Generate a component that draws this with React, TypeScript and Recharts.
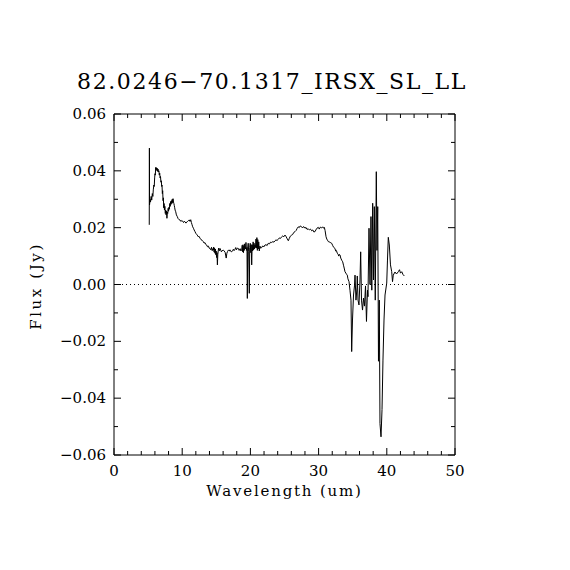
import React from "react";
import { LineChart, Line, XAxis, YAxis, ReferenceLine } from "recharts";

const chartTitle = "82.0246\u221270.1317_IRSX_SL_LL";
const xAxisTitle = "Wavelength (um)";
const yAxisTitle = "Flux (Jy)";

const xTicks = [0, 2, 4, 6, 8, 10, 12, 14, 16, 18, 20, 22, 24, 26, 28, 30, 32, 34, 36, 38, 40, 42, 44, 46, 48, 50];
const yTicks = [-0.06, -0.05, -0.04, -0.03, -0.02, -0.01, 0, 0.01, 0.02, 0.03, 0.04, 0.05, 0.06];

const wavelengthUm = [
  5.17, 5.19, 5.21, 5.28, 5.35, 5.45, 5.53, 5.62, 5.7, 5.76, 5.84, 5.9, 5.96, 6.01, 6.06, 6.11, 6.16, 6.22, 6.28, 6.34,
  6.4, 6.46, 6.52, 6.58, 6.64, 6.7, 6.76, 6.82, 6.88, 6.94, 6.99, 7.04, 7.09, 7.14, 7.19, 7.24, 7.29, 7.34, 7.4, 7.46,
  7.52, 7.58, 7.64, 7.7, 7.76, 7.82, 7.88, 7.94, 8.0, 8.06, 8.12, 8.18, 8.24, 8.3, 8.36, 8.42, 8.48, 8.54, 8.6, 8.66,
  8.72, 8.78, 8.84, 8.9, 8.96, 9.05, 9.15, 9.28, 9.4, 9.55, 9.68, 9.8, 9.95, 10.07, 10.2, 10.3, 10.41, 10.55, 10.66, 10.8,
  10.95, 11.04, 11.15, 11.25, 11.35, 11.45, 11.54, 11.65, 11.75, 11.88, 12.0, 12.1, 12.21, 12.35, 12.45, 12.61, 12.75, 12.9, 13.09, 13.2,
  13.35, 13.45, 13.59, 13.7, 13.85, 13.95, 14.08, 14.2, 14.3, 14.4, 14.5, 14.56, 14.62, 14.68, 14.74, 14.8, 14.86, 14.92, 14.98, 15.04,
  15.1, 15.16, 15.22, 15.29, 15.35, 15.42, 15.48, 15.54, 15.65, 15.75, 15.85, 16.03, 16.15, 16.3, 16.45, 16.55, 16.65, 16.76, 16.9, 17.0,
  17.1, 17.26, 17.4, 17.5, 17.6, 17.74, 17.85, 17.95, 18.1, 18.23, 18.35, 18.5, 18.6, 18.72, 18.8, 18.86, 18.92, 18.98, 19.04, 19.1,
  19.16, 19.21, 19.28, 19.35, 19.42, 19.5, 19.55, 19.6, 19.68, 19.75, 19.84, 19.9, 19.98, 20.05, 20.12, 20.19, 20.26, 20.33, 20.4, 20.47,
  20.54, 20.6, 20.67, 20.74, 20.82, 20.88, 20.95, 21.02, 21.08, 21.16, 21.22, 21.3, 21.4, 21.5, 21.66, 21.8, 21.95, 22.14, 22.3, 22.45,
  22.62, 22.8, 22.95, 23.12, 23.3, 23.45, 23.61, 23.75, 23.9, 24.09, 24.25, 24.4, 24.59, 24.75, 24.9, 25.07, 25.2, 25.35, 25.56, 25.7,
  25.85, 26.06, 26.2, 26.35, 26.54, 26.7, 26.85, 27.02, 27.15, 27.3, 27.52, 27.65, 27.8, 28.0, 28.15, 28.3, 28.49, 28.65, 28.8, 28.99,
  29.15, 29.3, 29.47, 29.6, 29.75, 29.96, 30.1, 30.25, 30.45, 30.6, 30.75, 30.84, 30.95, 31.09, 31.2, 31.3, 31.42, 31.55, 31.7, 31.92,
  32.05, 32.2, 32.4, 32.5, 32.6, 32.74, 32.85, 32.95, 33.05, 33.14, 33.25, 33.4, 33.53, 33.65, 33.75, 33.87, 34.0, 34.1, 34.21, 34.3,
  34.46, 34.6, 34.75, 34.85, 34.97, 35.12, 35.26, 35.34, 35.48, 35.63, 35.67, 35.78, 35.92, 36.07, 36.17, 36.29, 36.44, 36.58, 36.73, 36.88,
  37.02, 37.17, 37.24, 37.39, 37.54, 37.68, 37.8, 37.93, 38.05, 38.17, 38.31, 38.46, 38.56, 38.67, 38.78, 38.9, 39.0, 39.15, 39.3, 39.44,
  39.59, 39.74, 39.99, 40.1, 40.22, 40.37, 40.54, 40.72, 40.84, 40.95, 41.2, 41.42, 41.69, 41.86, 42.01, 42.19, 42.38, 42.57,
];

const fluxJy = [
  0.021, 0.048, 0.028, 0.03, 0.029, 0.031, 0.0297, 0.032, 0.031, 0.0333, 0.035, 0.0345, 0.0375, 0.039, 0.0385, 0.0412, 0.0405, 0.0411, 0.0401, 0.0409,
  0.0398, 0.0406, 0.0396, 0.04, 0.0385, 0.0392, 0.0375, 0.038, 0.036, 0.0365, 0.0345, 0.035, 0.032, 0.033, 0.0295, 0.0305, 0.027, 0.0285, 0.0262, 0.0275,
  0.025, 0.0262, 0.0245, 0.0258, 0.0233, 0.0255, 0.025, 0.0268, 0.0258, 0.0272, 0.0265, 0.0285, 0.0275, 0.0292, 0.0282, 0.0295, 0.0285, 0.03, 0.0288, 0.0302,
  0.029, 0.0285, 0.0278, 0.027, 0.0262, 0.0256, 0.0245, 0.0239, 0.0232, 0.0228, 0.0227, 0.0222, 0.0225, 0.0223, 0.0218, 0.0222, 0.0221, 0.0216, 0.022, 0.0222,
  0.0226, 0.0227, 0.0222, 0.0228, 0.0218, 0.021, 0.0203, 0.0198, 0.0192, 0.0186, 0.018, 0.0177, 0.0174, 0.0168, 0.017, 0.0163, 0.0158, 0.0156, 0.0151, 0.0146,
  0.0147, 0.0141, 0.0139, 0.0133, 0.0135, 0.0128, 0.0127, 0.0122, 0.0131, 0.0119, 0.0126, 0.0121, 0.0132, 0.0114, 0.0128, 0.011, 0.0125, 0.0105, 0.0118, 0.0095,
  0.0112, 0.0069, 0.0105, 0.012, 0.0128, 0.0118, 0.0122, 0.0127, 0.0121, 0.0115, 0.0119, 0.0121, 0.0118, 0.0113, 0.0093, 0.011, 0.0116, 0.0121, 0.0118, 0.0122,
  0.0117, 0.0115, 0.012, 0.0124, 0.0119, 0.0124, 0.013, 0.0122, 0.0128, 0.0127, 0.012, 0.0126, 0.0118, 0.0121, 0.0138, 0.0115, 0.014, 0.0112, 0.0135, 0.012,
  0.0143, 0.0133, 0.0125, 0.0148, 0.012, 0.013, -0.0049, 0.0128, 0.0145, 0.0115, -0.0031, 0.013, 0.0145, 0.0112, 0.014, 0.0069, 0.014, 0.0118, 0.015, 0.0122,
  0.0145, 0.0125, 0.0139, 0.013, 0.016, 0.0128, 0.0165, 0.012, 0.0158, 0.0125, 0.015, 0.0118, 0.0135, 0.0128, 0.013, 0.0136, 0.0132, 0.0139, 0.014, 0.0137,
  0.0145, 0.0143, 0.0149, 0.0148, 0.0151, 0.0149, 0.0154, 0.0157, 0.0155, 0.0159, 0.0164, 0.0162, 0.0168, 0.0171, 0.0168, 0.0174, 0.017, 0.0163, 0.0154, 0.0162,
  0.017, 0.0174, 0.0176, 0.0183, 0.0186, 0.019, 0.0197, 0.0203, 0.02, 0.0206, 0.0203, 0.0199, 0.0204, 0.0198, 0.0201, 0.0194, 0.0196, 0.0192, 0.0195, 0.0189,
  0.0192, 0.0185, 0.0186, 0.0192, 0.0198, 0.0201, 0.0195, 0.0202, 0.0199, 0.0203, 0.0198, 0.0201, 0.019, 0.0168, 0.016, 0.0156, 0.0151, 0.015, 0.0148, 0.0145,
  0.0138, 0.0131, 0.0127, 0.0118, 0.012, 0.011, 0.0107, 0.01, 0.0106, 0.0104, 0.0093, 0.0085, 0.008, 0.0068, 0.0058, 0.0045, 0.004, 0.0036, 0.0033, 0.002,
  0.001, -0.002, -0.0055, -0.0236, -0.0125, -0.0037, -0.0005, 0.0033, -0.0055, -0.0012, 0.003, -0.0055, -0.0072, 0.0016, 0.0115, -0.0055, -0.009, -0.0048, -0.0076, -0.0005,
  -0.013, -0.002, -0.0043, 0.0198, 0.0, 0.0239, -0.002, 0.0286, 0.0016, 0.0274, -0.0055, 0.0397, 0.012, 0.0274, -0.027, -0.0055, -0.0489, -0.0536, -0.044, -0.0266,
  -0.0125, -0.0037, 0.0005, 0.0086, 0.0166, 0.0139, 0.0069, 0.0045, 0.001, 0.0033, 0.0044, 0.0037, 0.0045, 0.0052, 0.004, 0.0045, 0.0035, 0.003,
];

const data = wavelengthUm.map((w, i) => ({ w, f: fluxJy[i] }));

const FONT = "'DejaVu Serif', serif";

const fmtY = (v: number) => {
  const r = Math.round(v * 100);
  if (r === 0) return "0.00";
  return (r < 0 ? "\u2212" : "") + Math.abs(v).toFixed(2);
};

const BottomTick = (props: any) => {
  const { x, y, payload } = props;
  const v = payload.value;
  const major = v % 10 === 0;
  return (
    <g>
      <line x1={x} y1={y} x2={x} y2={y - (major ? 7 : 4)} stroke="#000" strokeWidth={1} />
      {major && (
        <text x={x} y={y + 21} textAnchor="middle" fontFamily={FONT} fontSize={15} fill="#000">
          {String(v)}
        </text>
      )}
    </g>
  );
};

const TopTick = (props: any) => {
  const { x, y, payload } = props;
  const major = payload.value % 10 === 0;
  return <line x1={x} y1={y} x2={x} y2={y + (major ? 7 : 4)} stroke="#000" strokeWidth={1} />;
};

const LeftTick = (props: any) => {
  const { x, y, payload } = props;
  const v = payload.value;
  const major = Math.round(v * 100) % 2 === 0;
  return (
    <g>
      <line x1={x} y1={y} x2={x + (major ? 7 : 4)} y2={y} stroke="#000" strokeWidth={1} />
      {major && (
        <text x={x - 8} y={y + 5} textAnchor="end" fontFamily={FONT} fontSize={15} fill="#000">
          {fmtY(v)}
        </text>
      )}
    </g>
  );
};

const RightTick = (props: any) => {
  const { x, y, payload } = props;
  const major = Math.round(payload.value * 100) % 2 === 0;
  return <line x1={x} y1={y} x2={x - (major ? 7 : 4)} y2={y} stroke="#000" strokeWidth={1} />;
};

export default function App() {
  return (
    <div style={{ position: "absolute", left: 0, top: 0, width: 570, height: 570, background: "#fff" }}>
      <div
        style={{
          position: "absolute",
          left: 272 - 250,
          top: 69,
          width: 500,
          textAlign: "center",
          fontFamily: FONT,
          fontSize: 22,
          letterSpacing: "1.6px",
          lineHeight: "26px",
          color: "#000",
          whiteSpace: "nowrap",
        }}
      >
        {chartTitle}
      </div>
      <div
        style={{
          position: "absolute",
          left: 114,
          top: 482,
          width: 341,
          textAlign: "center",
          fontFamily: FONT,
          fontSize: 15,
          letterSpacing: "1.8px",
          color: "#000",
          whiteSpace: "nowrap",
        }}
      >
        {xAxisTitle}
      </div>
      <div
        style={{
          position: "absolute",
          left: 36 - 60,
          top: 286 - 10,
          width: 120,
          height: 20,
          textAlign: "center",
          fontFamily: FONT,
          fontSize: 15,
          letterSpacing: "2.6px",
          lineHeight: "20px",
          color: "#000",
          whiteSpace: "nowrap",
          transform: "rotate(-90deg)",
        }}
      >
        {yAxisTitle}
      </div>
      <LineChart
        width={570}
        height={570}
        data={data}
        margin={{ top: 113, right: 114, left: 14, bottom: 15 }}
        style={{ position: "absolute", left: 0, top: 0 }}
      >
        <XAxis
          dataKey="w"
          type="number"
          domain={[0, 50]}
          ticks={xTicks}
          interval={0}
          allowDataOverflow
          height={100}
          tickSize={0}
          tickMargin={0}
          tickLine={false}
          axisLine={{ stroke: "#000" }}
          tick={<BottomTick />}
        />
        <XAxis
          xAxisId="top"
          orientation="top"
          dataKey="w"
          type="number"
          domain={[0, 50]}
          ticks={xTicks}
          interval={0}
          allowDataOverflow
          height={1}
          tickSize={0}
          tickMargin={0}
          tickLine={false}
          axisLine={{ stroke: "#000" }}
          tick={<TopTick />}
        />
        <YAxis
          type="number"
          domain={[-0.06, 0.06]}
          ticks={yTicks}
          interval={0}
          allowDataOverflow
          width={100}
          tickSize={0}
          tickMargin={0}
          tickLine={false}
          axisLine={{ stroke: "#000" }}
          tick={<LeftTick />}
        />
        <YAxis
          yAxisId="right"
          orientation="right"
          type="number"
          domain={[-0.06, 0.06]}
          ticks={yTicks}
          interval={0}
          allowDataOverflow
          width={1}
          tickSize={0}
          tickMargin={0}
          tickLine={false}
          axisLine={{ stroke: "#000" }}
          tick={<RightTick />}
        />
        <ReferenceLine y={0} stroke="#000" strokeWidth={1} strokeDasharray="1 3" />
        <Line
          type="linear"
          dataKey="f"
          stroke="#000"
          strokeWidth={1}
          dot={false}
          activeDot={false}
          isAnimationActive={false}
        />
      </LineChart>
    </div>
  );
}
